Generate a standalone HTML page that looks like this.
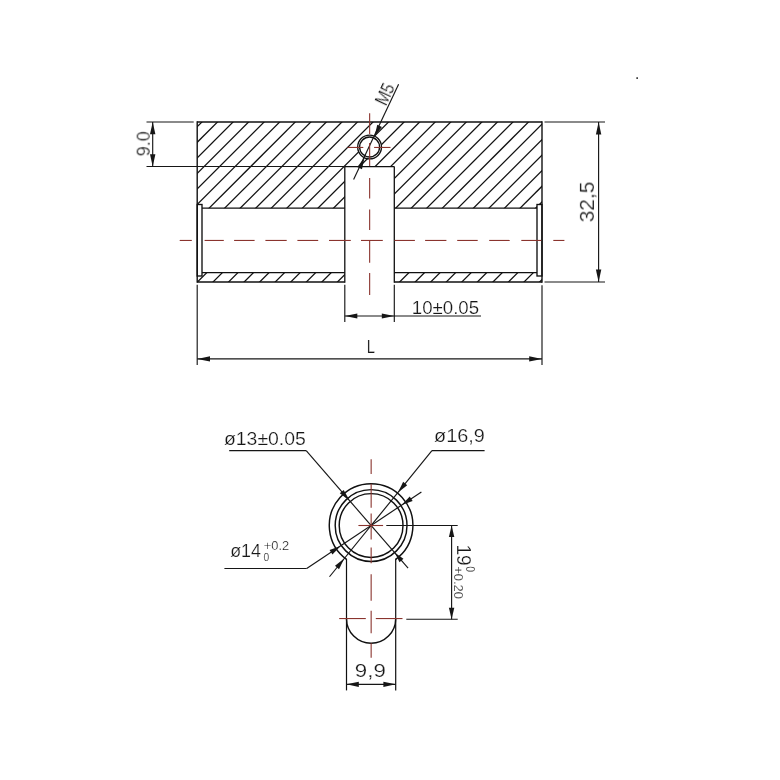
<!DOCTYPE html>
<html><head><meta charset="utf-8"><title>Drawing</title>
<style>
html,body{margin:0;padding:0;background:#fff}
svg{display:block}
text{font-family:"Liberation Sans",sans-serif;fill:#161616;stroke:#fff;stroke-width:.22px}
</style></head><body>
<svg width="780" height="780" viewBox="0 0 780 780">
<rect width="780" height="780" fill="#fff"/>
<clipPath id="h"><path d="M197.2 122.0 H542.0 V208.2 H394.3 V166.6 H344.8 V208.2 H197.2 Z M197.2 272.6 H344.8 V282.0 H197.2 Z M394.3 272.6 H542.0 V282.0 H394.3 Z"/></clipPath>
<g clip-path="url(#h)" stroke="#101010" stroke-width="1.25">
<line x1="-7.15" y1="300" x2="192.85" y2="100"/>
<line x1="8.40" y1="300" x2="208.40" y2="100"/>
<line x1="23.95" y1="300" x2="223.95" y2="100"/>
<line x1="39.50" y1="300" x2="239.50" y2="100"/>
<line x1="55.05" y1="300" x2="255.05" y2="100"/>
<line x1="70.60" y1="300" x2="270.60" y2="100"/>
<line x1="86.15" y1="300" x2="286.15" y2="100"/>
<line x1="101.70" y1="300" x2="301.70" y2="100"/>
<line x1="117.25" y1="300" x2="317.25" y2="100"/>
<line x1="132.80" y1="300" x2="332.80" y2="100"/>
<line x1="148.35" y1="300" x2="348.35" y2="100"/>
<line x1="163.90" y1="300" x2="363.90" y2="100"/>
<line x1="179.45" y1="300" x2="379.45" y2="100"/>
<line x1="195.00" y1="300" x2="395.00" y2="100"/>
<line x1="210.55" y1="300" x2="410.55" y2="100"/>
<line x1="226.10" y1="300" x2="426.10" y2="100"/>
<line x1="241.65" y1="300" x2="441.65" y2="100"/>
<line x1="257.20" y1="300" x2="457.20" y2="100"/>
<line x1="272.75" y1="300" x2="472.75" y2="100"/>
<line x1="288.30" y1="300" x2="488.30" y2="100"/>
<line x1="303.85" y1="300" x2="503.85" y2="100"/>
<line x1="319.40" y1="300" x2="519.40" y2="100"/>
<line x1="334.95" y1="300" x2="534.95" y2="100"/>
<line x1="350.50" y1="300" x2="550.50" y2="100"/>
<line x1="366.05" y1="300" x2="566.05" y2="100"/>
<line x1="381.60" y1="300" x2="581.60" y2="100"/>
<line x1="397.15" y1="300" x2="597.15" y2="100"/>
<line x1="412.70" y1="300" x2="612.70" y2="100"/>
<line x1="428.25" y1="300" x2="628.25" y2="100"/>
<line x1="443.80" y1="300" x2="643.80" y2="100"/>
<line x1="459.35" y1="300" x2="659.35" y2="100"/>
<line x1="474.90" y1="300" x2="674.90" y2="100"/>
<line x1="490.45" y1="300" x2="690.45" y2="100"/>
<line x1="506.00" y1="300" x2="706.00" y2="100"/>
<line x1="521.55" y1="300" x2="721.55" y2="100"/>
<line x1="537.10" y1="300" x2="737.10" y2="100"/>
<line x1="552.65" y1="300" x2="752.65" y2="100"/>
</g>
<circle cx="369.6" cy="147.0" r="11.9" fill="#fff" stroke="#101010" stroke-width="1.35"/>
<circle cx="369.6" cy="147.0" r="10.0" fill="none" stroke="#101010" stroke-width="1.35"/>
<rect x="197.2" y="204.5" width="4.80" height="71.5" fill="#fff" stroke="#101010" stroke-width="1.35"/>
<rect x="537.0" y="204.5" width="5.00" height="71.5" fill="#fff" stroke="#101010" stroke-width="1.35"/>
<line x1="197.20" y1="122.00" x2="542.00" y2="122.00" stroke="#101010" stroke-width="1.4" />
<line x1="197.20" y1="121.30" x2="197.20" y2="282.70" stroke="#101010" stroke-width="1.4" />
<line x1="542.00" y1="121.30" x2="542.00" y2="282.70" stroke="#101010" stroke-width="1.4" />
<line x1="197.20" y1="282.00" x2="344.80" y2="282.00" stroke="#101010" stroke-width="1.4" />
<line x1="394.30" y1="282.00" x2="542.00" y2="282.00" stroke="#101010" stroke-width="1.4" />
<line x1="344.80" y1="166.60" x2="344.80" y2="282.70" stroke="#101010" stroke-width="1.3" />
<line x1="394.30" y1="166.60" x2="394.30" y2="282.70" stroke="#101010" stroke-width="1.3" />
<line x1="344.80" y1="166.60" x2="394.30" y2="166.60" stroke="#101010" stroke-width="1.3" />
<line x1="202.00" y1="208.20" x2="344.80" y2="208.20" stroke="#101010" stroke-width="1.3" />
<line x1="394.30" y1="208.20" x2="537.00" y2="208.20" stroke="#101010" stroke-width="1.3" />
<line x1="202.00" y1="272.60" x2="344.80" y2="272.60" stroke="#101010" stroke-width="1.3" />
<line x1="394.30" y1="272.60" x2="537.00" y2="272.60" stroke="#101010" stroke-width="1.3" />
<line x1="146.50" y1="122.00" x2="193.70" y2="122.00" stroke="#161616" stroke-width="1.15" />
<line x1="146.50" y1="166.50" x2="344.80" y2="166.50" stroke="#161616" stroke-width="1.15" />
<line x1="152.70" y1="122.00" x2="152.70" y2="166.50" stroke="#161616" stroke-width="1.15" />
<polygon points="152.70,122.00 155.40,134.30 150.00,134.30" fill="#161616"/>
<polygon points="152.70,166.50 150.00,154.20 155.40,154.20" fill="#161616"/>
<line x1="544.50" y1="122.00" x2="605.00" y2="122.00" stroke="#161616" stroke-width="1.15" />
<line x1="544.50" y1="282.00" x2="605.00" y2="282.00" stroke="#161616" stroke-width="1.15" />
<line x1="598.60" y1="122.00" x2="598.60" y2="282.00" stroke="#161616" stroke-width="1.15" />
<polygon points="598.60,122.00 601.30,134.50 595.90,134.50" fill="#161616"/>
<polygon points="598.60,282.00 595.90,269.50 601.30,269.50" fill="#161616"/>
<line x1="197.20" y1="284.80" x2="197.20" y2="365.00" stroke="#161616" stroke-width="1.15" />
<line x1="542.00" y1="285.20" x2="542.00" y2="365.00" stroke="#161616" stroke-width="1.15" />
<line x1="344.80" y1="284.80" x2="344.80" y2="322.00" stroke="#161616" stroke-width="1.15" />
<line x1="394.30" y1="284.80" x2="394.30" y2="322.00" stroke="#161616" stroke-width="1.15" />
<line x1="197.20" y1="358.90" x2="542.00" y2="358.90" stroke="#161616" stroke-width="1.15" />
<polygon points="197.20,358.90 210.00,356.20 210.00,361.60" fill="#161616"/>
<polygon points="542.00,358.90 529.20,361.60 529.20,356.20" fill="#161616"/>
<line x1="344.80" y1="316.00" x2="481.00" y2="316.00" stroke="#161616" stroke-width="1.15" />
<polygon points="344.80,316.00 357.30,313.40 357.30,318.60" fill="#161616"/>
<polygon points="394.30,316.00 381.80,318.60 381.80,313.40" fill="#161616"/>
<line x1="398.60" y1="84.20" x2="353.60" y2="179.60" stroke="#161616" stroke-width="1.15" />
<polygon points="374.68,136.24 377.23,124.73 381.93,126.95" fill="#161616"/>
<polygon points="364.52,157.76 361.97,169.27 357.27,167.05" fill="#161616"/>
<line x1="179.70" y1="240.45" x2="191.80" y2="240.45" stroke="#8a342e" stroke-width="1.1" />
<line x1="204.60" y1="240.45" x2="223.80" y2="240.45" stroke="#8a342e" stroke-width="1.1" />
<line x1="234.10" y1="240.45" x2="254.60" y2="240.45" stroke="#8a342e" stroke-width="1.1" />
<line x1="265.40" y1="240.45" x2="286.70" y2="240.45" stroke="#8a342e" stroke-width="1.1" />
<line x1="297.40" y1="240.45" x2="318.20" y2="240.45" stroke="#8a342e" stroke-width="1.1" />
<line x1="329.00" y1="240.45" x2="350.80" y2="240.45" stroke="#8a342e" stroke-width="1.1" />
<line x1="361.00" y1="240.45" x2="382.80" y2="240.45" stroke="#8a342e" stroke-width="1.1" />
<line x1="394.40" y1="240.45" x2="414.90" y2="240.45" stroke="#8a342e" stroke-width="1.1" />
<line x1="425.10" y1="240.45" x2="446.40" y2="240.45" stroke="#8a342e" stroke-width="1.1" />
<line x1="457.20" y1="240.45" x2="477.70" y2="240.45" stroke="#8a342e" stroke-width="1.1" />
<line x1="489.20" y1="240.45" x2="509.70" y2="240.45" stroke="#8a342e" stroke-width="1.1" />
<line x1="521.30" y1="240.45" x2="541.30" y2="240.45" stroke="#8a342e" stroke-width="1.1" />
<line x1="553.30" y1="240.45" x2="564.40" y2="240.45" stroke="#8a342e" stroke-width="1.1" />
<line x1="369.65" y1="113.20" x2="369.65" y2="134.00" stroke="#8a342e" stroke-width="1.1" />
<line x1="369.65" y1="143.00" x2="369.65" y2="166.00" stroke="#8a342e" stroke-width="1.1" />
<line x1="369.65" y1="178.00" x2="369.65" y2="198.60" stroke="#8a342e" stroke-width="1.1" />
<line x1="369.65" y1="209.40" x2="369.65" y2="230.00" stroke="#8a342e" stroke-width="1.1" />
<line x1="369.65" y1="240.80" x2="369.65" y2="262.70" stroke="#8a342e" stroke-width="1.1" />
<line x1="369.65" y1="273.10" x2="369.65" y2="295.00" stroke="#8a342e" stroke-width="1.1" />
<line x1="347.60" y1="147.45" x2="363.30" y2="147.45" stroke="#8a342e" stroke-width="1.1" />
<line x1="374.10" y1="147.45" x2="390.50" y2="147.45" stroke="#8a342e" stroke-width="1.1" />
<rect x="636.4" y="77.3" width="1.5" height="1.6" fill="#111"/>
<path d="M346.50 559.29 A41.8 41.8 0 1 1 395.70 559.29" fill="none" stroke="#101010" stroke-width="1.45"/>
<circle cx="371.1" cy="525.5" r="35.9" fill="none" stroke="#101010" stroke-width="1.45"/>
<circle cx="371.1" cy="525.5" r="31.9" fill="none" stroke="#101010" stroke-width="1.45"/>
<line x1="346.50" y1="558.79" x2="346.50" y2="690.40" stroke="#101010" stroke-width="1.2" />
<line x1="395.70" y1="558.79" x2="395.70" y2="690.40" stroke="#101010" stroke-width="1.2" />
<path d="M346.50 618.7 A24.60 24.60 0 0 0 395.70 618.7" fill="none" stroke="#101010" stroke-width="1.45"/>
<line x1="229.20" y1="450.60" x2="306.20" y2="450.60" stroke="#161616" stroke-width="1.15" />
<line x1="306.20" y1="450.60" x2="408.10" y2="568.20" stroke="#161616" stroke-width="1.15" />
<polygon points="349.82,500.94 339.80,493.34 343.73,489.94" fill="#161616"/>
<polygon points="394.81,552.86 403.45,558.86 399.52,562.27" fill="#161616"/>
<line x1="484.60" y1="450.60" x2="431.90" y2="450.60" stroke="#161616" stroke-width="1.15" />
<line x1="431.90" y1="450.60" x2="329.50" y2="576.74" stroke="#161616" stroke-width="1.15" />
<polygon points="397.95,492.43 403.18,481.86 407.21,485.14" fill="#161616"/>
<polygon points="344.25,558.57 339.02,569.14 334.99,565.86" fill="#161616"/>
<line x1="224.40" y1="568.50" x2="306.70" y2="568.50" stroke="#161616" stroke-width="1.15" />
<line x1="306.70" y1="568.50" x2="421.41" y2="491.90" stroke="#161616" stroke-width="1.15" />
<polygon points="340.58,545.88 332.46,554.43 329.57,550.10" fill="#161616"/>
<polygon points="401.62,505.12 409.74,496.57 412.63,500.90" fill="#161616"/>
<line x1="386.30" y1="525.50" x2="457.70" y2="525.50" stroke="#161616" stroke-width="1.15" />
<line x1="406.30" y1="619.20" x2="457.70" y2="619.20" stroke="#161616" stroke-width="1.15" />
<line x1="451.60" y1="525.50" x2="451.60" y2="619.20" stroke="#161616" stroke-width="1.15" />
<polygon points="451.60,525.50 454.30,537.00 448.90,537.00" fill="#161616"/>
<polygon points="451.60,619.20 448.90,607.70 454.30,607.70" fill="#161616"/>
<line x1="346.50" y1="684.30" x2="395.70" y2="684.30" stroke="#161616" stroke-width="1.15" />
<polygon points="346.50,684.30 358.80,681.70 358.80,686.90" fill="#161616"/>
<polygon points="395.70,684.30 383.40,686.90 383.40,681.70" fill="#161616"/>
<line x1="371.15" y1="459.20" x2="371.15" y2="474.00" stroke="#8a342e" stroke-width="1.1" />
<line x1="371.15" y1="483.80" x2="371.15" y2="507.80" stroke="#8a342e" stroke-width="1.1" />
<line x1="371.15" y1="513.50" x2="371.15" y2="539.60" stroke="#8a342e" stroke-width="1.1" />
<line x1="371.15" y1="547.40" x2="371.15" y2="563.30" stroke="#8a342e" stroke-width="1.1" />
<line x1="371.15" y1="574.20" x2="371.15" y2="600.80" stroke="#8a342e" stroke-width="1.1" />
<line x1="371.15" y1="610.80" x2="371.15" y2="633.30" stroke="#8a342e" stroke-width="1.1" />
<line x1="371.15" y1="643.30" x2="371.15" y2="657.80" stroke="#8a342e" stroke-width="1.1" />
<line x1="358.40" y1="525.50" x2="383.10" y2="525.50" stroke="#8a342e" stroke-width="1.1" />
<line x1="339.20" y1="618.55" x2="365.80" y2="618.55" stroke="#8a342e" stroke-width="1.1" />
<line x1="375.80" y1="618.55" x2="402.50" y2="618.55" stroke="#8a342e" stroke-width="1.1" />
<g opacity="0.995">
<text x="150.00" y="156.30" font-size="19" text-anchor="start" textLength="25" lengthAdjust="spacingAndGlyphs" transform="rotate(-90 150.00 156.30)" >9.0</text>
<text x="594.20" y="222.30" font-size="20.5" text-anchor="start" textLength="40.7" lengthAdjust="spacingAndGlyphs" transform="rotate(-90 594.20 222.30)" >32,5</text>
<text x="366.80" y="352.60" font-size="18.5" text-anchor="start" textLength="8.2" lengthAdjust="spacingAndGlyphs" >L</text>
<text x="411.80" y="313.50" font-size="19" text-anchor="start" textLength="67.3" lengthAdjust="spacingAndGlyphs" >10±0.05</text>
<text x="385.45" y="106.50" font-size="18.5" text-anchor="start" textLength="21.9" lengthAdjust="spacingAndGlyphs" transform="rotate(-64.75 385.45 106.50)" >M5</text>
<text x="223.90" y="444.80" font-size="19" text-anchor="start" textLength="82" lengthAdjust="spacingAndGlyphs" >ø13±0.05</text>
<text x="434.10" y="441.90" font-size="19" text-anchor="start" textLength="50.8" lengthAdjust="spacingAndGlyphs" >ø16,9</text>
<text x="230.20" y="556.50" font-size="19" text-anchor="start" textLength="30.8" lengthAdjust="spacingAndGlyphs" >ø14</text>
<text x="263.80" y="549.80" font-size="12.5" text-anchor="start" textLength="25.4" lengthAdjust="spacingAndGlyphs" >+0.2</text>
<text x="263.50" y="560.80" font-size="11.5" text-anchor="start" textLength="5.7" lengthAdjust="spacingAndGlyphs" >0</text>
<text x="457.10" y="544.40" font-size="20.5" text-anchor="start" textLength="21.4" lengthAdjust="spacingAndGlyphs" transform="rotate(90 457.10 544.40)" >19</text>
<text x="465.80" y="566.30" font-size="13.5" text-anchor="start" textLength="5.8" lengthAdjust="spacingAndGlyphs" transform="rotate(90 465.80 566.30)" >0</text>
<text x="453.60" y="566.30" font-size="13.5" text-anchor="start" textLength="32.7" lengthAdjust="spacingAndGlyphs" transform="rotate(90 453.60 566.30)" >+0.20</text>
<text x="354.80" y="676.80" font-size="19" text-anchor="start" textLength="31" lengthAdjust="spacingAndGlyphs" >9,9</text>
</g>
</svg>
</body></html>
